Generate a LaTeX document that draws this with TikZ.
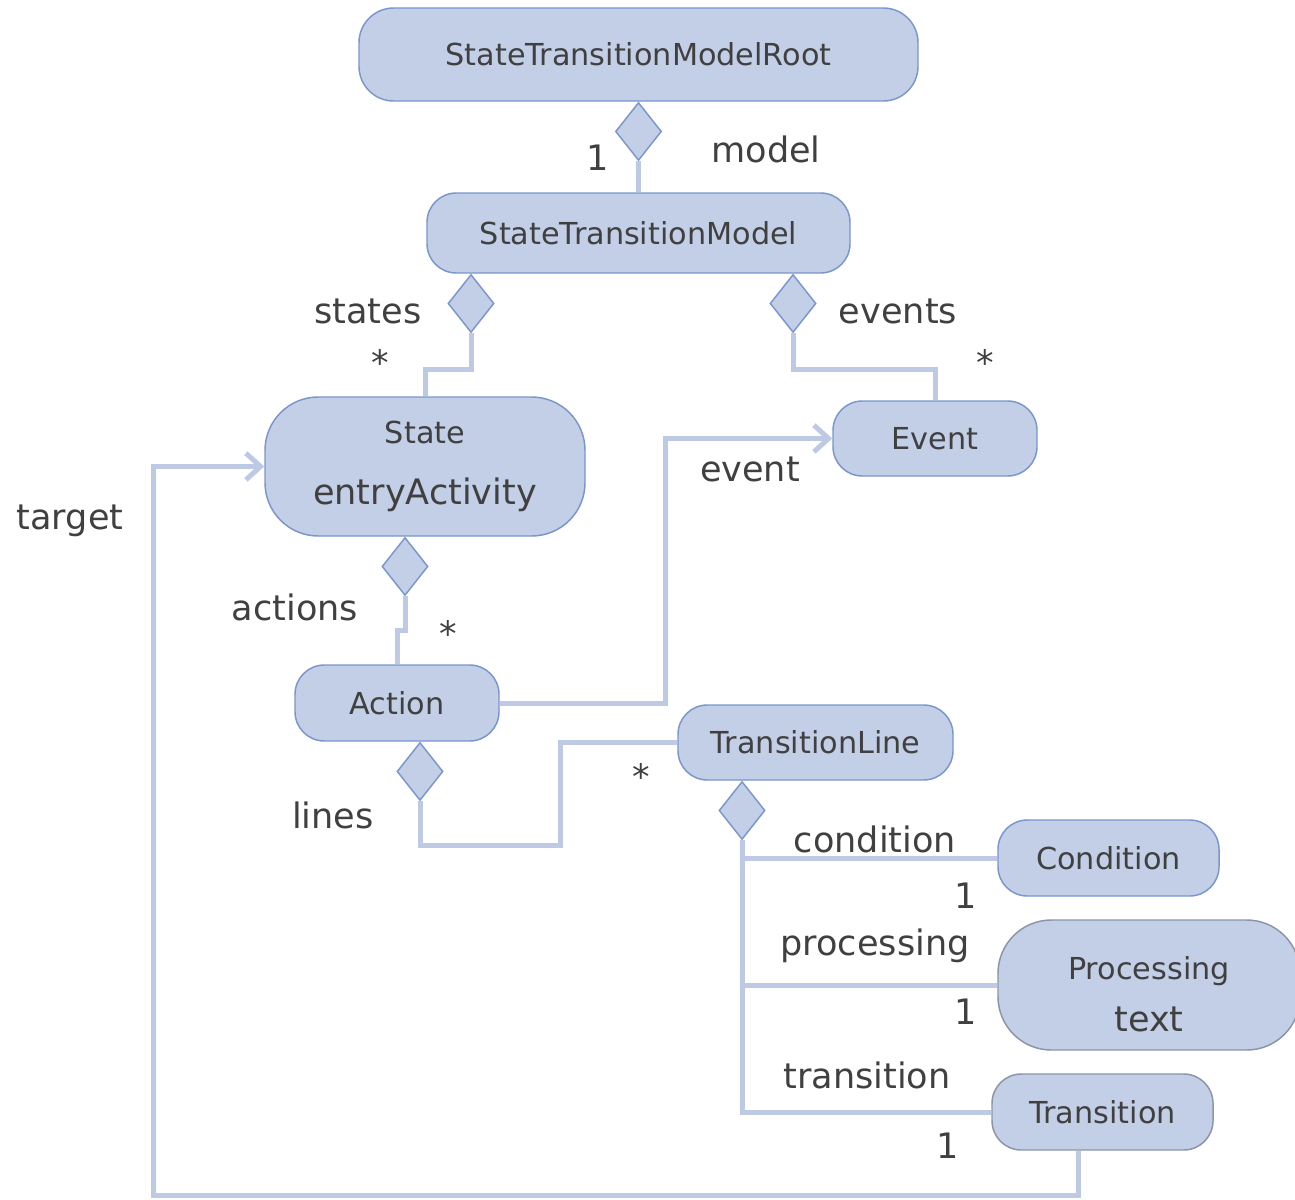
\documentclass[tikz,border=0pt]{standalone}
\usepackage{fontspec}
\setmainfont{DejaVu Sans}
\usetikzlibrary{shapes.geometric,arrows.meta,positioning}
\definecolor{boxfill}{RGB}{195,207,230}
\definecolor{boxline}{RGB}{122,150,204}
\definecolor{grayline}{RGB}{138,149,168}
\definecolor{connline}{RGB}{190,202,227}
\definecolor{txtgray}{RGB}{64,64,64}
\newcommand{\clsfont}{\fontsize{22.7}{46}\selectfont}
\newcommand{\labfont}{\fontsize{26.3}{46}\selectfont}

\begin{document}
\begin{tikzpicture}[x=0.75pt,y=0.75pt,yscale=-1,xscale=1,
  cls/.style={draw=boxline,fill=boxfill,line width=1.1pt,rounded corners=22pt,text=txtgray,font=\clsfont,inner sep=0pt,align=center},
  dia/.style={diamond,draw=boxline,fill=boxfill,line width=1.1pt,minimum width=34.5pt,minimum height=43.5pt,inner sep=0pt,anchor=north},
  conn/.style={draw=connline,line width=3.75pt},
  arr/.style={conn,-{Straight Barb[length=11pt,width=20pt]}},
  lab/.style={text=txtgray,font=\labfont,inner sep=0pt}]
\useasboundingbox (0,0) rectangle (1295,1199);

%Shape: Rounded Rect (classes)
\node[cls,minimum width=419.25pt,minimum height=69.75pt,rounded corners=26pt] (root) at (638.5,54.5) {StateTransitionModelRoot};
\node[cls,minimum width=317.25pt,minimum height=60pt] (stm) at (638.5,233) {StateTransitionModel};
\node[cls,minimum width=240pt,minimum height=104.25pt,rounded corners=40pt] (state) at (425,466.5) {State\\{\labfont entryActivity}};
\node[cls,minimum width=153pt,minimum height=56.25pt] (event) at (935,438.5) {Event};
\node[cls,minimum width=153pt,minimum height=57pt] (action) at (397,703) {Action};
\node[cls,minimum width=206.25pt,minimum height=56.25pt] (tline) at (815.5,742.5) {TransitionLine};
\node[cls,minimum width=165.75pt,minimum height=57pt] (cond) at (1108.5,858) {Condition};
\node[cls,draw=grayline,minimum width=226.5pt,minimum height=97.5pt,rounded corners=40pt,font=\fontsize{22.7}{39}\selectfont] (proc) at (1149,985) {\rule{0pt}{31pt}Processing\\{\fontsize{26.3}{39}\selectfont text}};
\node[cls,draw=grayline,minimum width=165.75pt,minimum height=57pt] (trans) at (1102.5,1112) {Transition};

%Shape: Diamond (compositions)
\node[dia] (dmodel) at (root.south) {};
\node[dia] (dstates) at ([xshift=-125.6pt]stm.south) {};
\node[dia] (devents) at ([xshift=115.9pt]stm.south) {};
\node[dia] (dactions) at ([xshift=-15pt]state.south) {};
\node[dia] (dlines) at ([xshift=17.25pt]action.south) {};
\node[dia] (dtline) at ([xshift=-55.1pt]tline.south) {};

\coordinate (lbend) at (560,845);
\coordinate (tbend) at (153,1195);

%Straight Lines (connectors)
\draw[conn] (dmodel.south) -- (stm.north);
\draw[conn] (dstates.south) -- ++(0,36) -| (state.north);
\draw[conn] (devents.south) -- ++(0,36) -| (event.north);
\draw[conn] (dactions.south) -- ++(0,34) -| (action.north);
\draw[arr] (action.east) -- ++(166,0) |- (event.west);
\draw[conn] (dlines.south) |- (lbend) |- (tline.west);
\draw[conn] (dtline.south) |- (cond.west);
\draw[conn] (dtline.south) |- (proc.west);
\draw[conn] (dtline.south) |- (trans.west);
\draw[arr] ([xshift=-18pt]trans.south) |- (tbend) |- (state.west);

% Text Node
\node[lab] (mone) at (598,158) {1};
\node[lab] (lmodel) at (766,149) {model};
\node[lab] (lstates) at (368,311) {states};
\node[lab] (sstar) at (380,362) {*};
\node[lab] (levents) at (898,311) {events};
\node[lab] (estar) at (985,362) {*};
\node[lab] (levent) at (750,469) {event};
\node[lab] (ltarget) at (70,521) {target};
\node[lab] (lactions) at (295,607) {actions};
\node[lab] (astar) at (448,633) {*};
\node[lab] (llines) at (333,815) {lines};
\node[lab] (lstar) at (641,776) {*};
\node[lab] (lcond) at (875,839) {condition};
\node[lab] (cone) at (966,896) {1};
\node[lab] (lproc) at (875,946) {processing};
\node[lab] (pone) at (966,1012) {1};
\node[lab] (ltrans) at (867,1075) {transition};
\node[lab] (tone) at (948,1146) {1};

\end{tikzpicture}
\end{document}
